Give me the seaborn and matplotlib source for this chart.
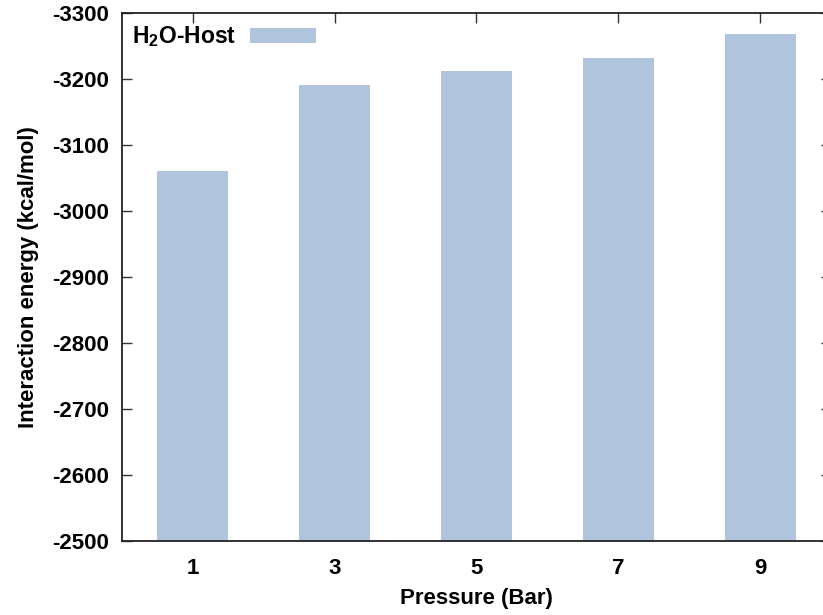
import matplotlib
matplotlib.use("Agg")
import matplotlib.pyplot as plt
import seaborn as sns
import pandas as pd

pressures = ["1", "3", "5", "7", "9"]
energies = [-3061, -3191, -3212, -3232, -3268]
series_label = r"H$_\mathbf{2}$O-Host"
y_ticks = [-3300, -3200, -3100, -3000, -2900, -2800, -2700, -2600, -2500]

sns.set_style("ticks")
plt.rcParams["font.family"] = ["Liberation Sans", "DejaVu Sans"]
plt.rcParams["font.weight"] = "bold"
plt.rcParams["text.color"] = "black"
plt.rcParams["axes.labelcolor"] = "black"
plt.rcParams["xtick.color"] = "black"
plt.rcParams["ytick.color"] = "black"
plt.rcParams["mathtext.fontset"] = "custom"
plt.rcParams["mathtext.bf"] = "Liberation Sans:bold"
plt.rcParams["mathtext.rm"] = "Liberation Sans:bold"

df = pd.DataFrame({"Pressure": pressures, "Energy": energies})

fig = plt.figure(figsize=(8.23, 6.15), dpi=100)
ax = fig.add_axes([0.1482, 0.1203, 0.8615, 0.8581])

sns.barplot(data=df, x="Pressure", y="Energy", order=pressures, color="#B0C4DE",
            saturation=1, width=0.5, edgecolor="none", label=series_label, ax=ax)

ax.set_xlim(-0.5, 4.5)
ax.set_ylim(-2500, -3300)
ax.set_yticks(y_ticks)
ax.set_yticklabels([str(v) for v in y_ticks])

fs = 16
ax.tick_params(axis="both", direction="in", length=7, width=1.0, color="#333333",
               labelcolor="black", labelsize=fs, top=True, right=True)
ax.tick_params(axis="y", pad=9)
ax.tick_params(axis="x", pad=12)
for lab in ax.get_xticklabels() + ax.get_yticklabels():
    lab.set_fontweight("bold")
for s in ax.spines.values():
    s.set_linewidth(1.3)
    s.set_color("#222222")
    s.set_visible(True)

ax.set_xlabel("Pressure (Bar)", fontsize=fs, fontweight="bold", labelpad=7, color="black")
ax.set_ylabel("Interaction energy (kcal/mol)", fontsize=fs, fontweight="bold", labelpad=10,
              color="black")

leg = ax.legend(loc="center left", bbox_to_anchor=(0.014, 0.955), frameon=False,
                markerfirst=False, handlelength=2.9, handleheight=0.6,
                handletextpad=0.6, borderpad=0, borderaxespad=0,
                prop={"weight": "bold", "size": 16.5})
for t in leg.get_texts():
    t.set_color("black")

fig.savefig("out.png", dpi=100)
